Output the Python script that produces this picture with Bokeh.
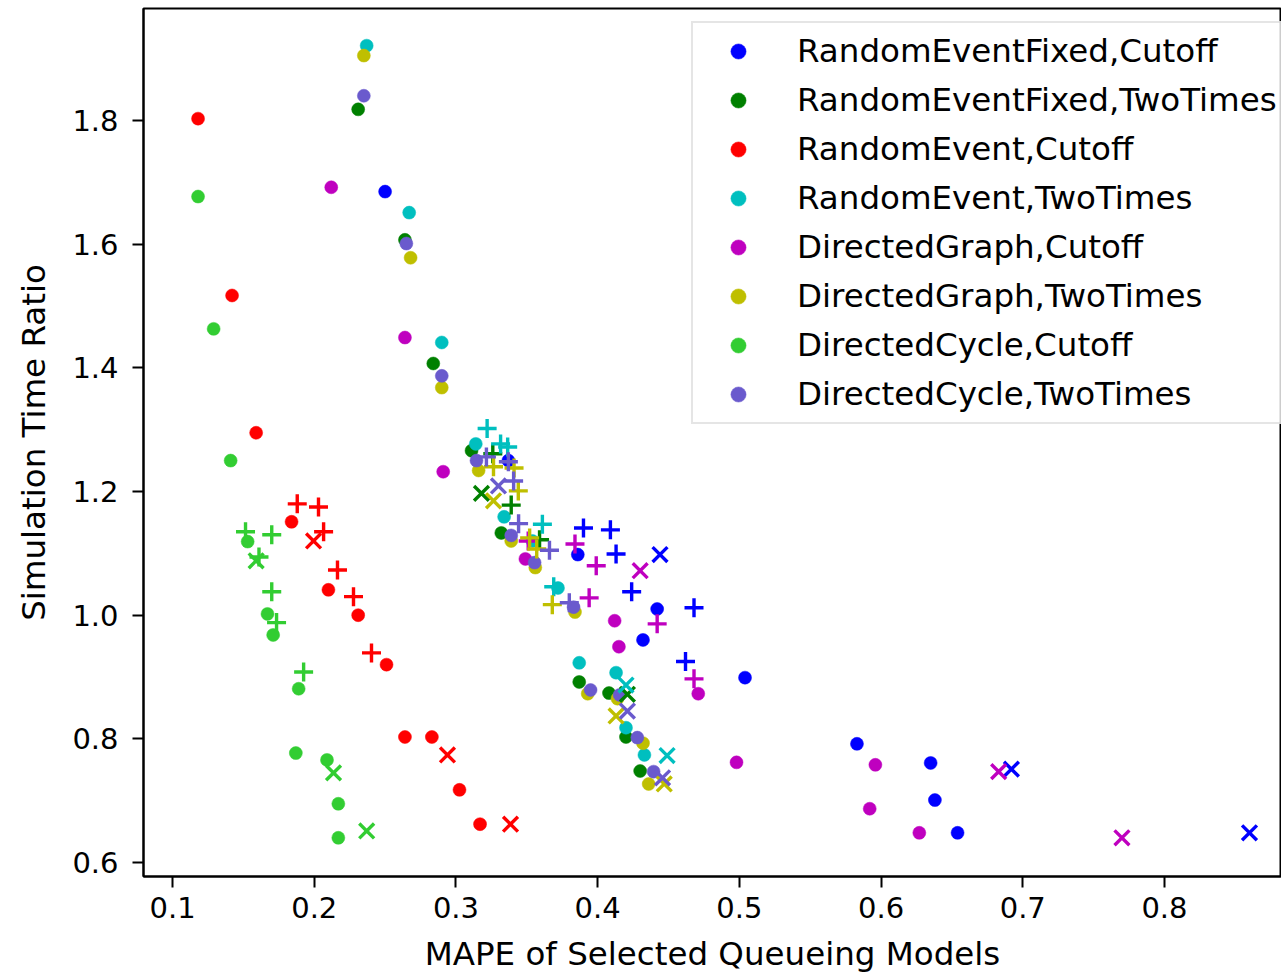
from bokeh.plotting import figure
from bokeh.models import Range1d, Legend, LegendItem, PrintfTickFormatter
from bokeh.embed import file_html
from bokeh.resources import INLINE

# ---------------- data ----------------
series_names = ["RandomEventFixed,Cutoff", "RandomEventFixed,TwoTimes", "RandomEvent,Cutoff",
                "RandomEvent,TwoTimes", "DirectedGraph,Cutoff", "DirectedGraph,TwoTimes",
                "DirectedCycle,Cutoff", "DirectedCycle,TwoTimes"]
series_colors = ["#0000ff", "#008000", "#ff0000", "#00bfbf", "#bf00bf", "#bfbf00", "#32cd32", "#6a5acd"]

x_ticks = [0.1, 0.2, 0.3, 0.4, 0.5, 0.6, 0.7, 0.8]
y_ticks = [0.6, 0.8, 1.0, 1.2, 1.4, 1.6, 1.8]
x_title = "MAPE of Selected Queueing Models"
y_title = "Simulation Time Ratio"

# RandomEventFixed,Cutoff
ref_cut_dot_x = [0.250, 0.386, 0.337, 0.442, 0.432, 0.504, 0.583, 0.635, 0.638, 0.654]
ref_cut_dot_y = [1.685, 1.098, 1.250, 1.010, 0.960, 0.899, 0.792, 0.761, 0.701, 0.648]
ref_cut_plus_x = [0.390, 0.409, 0.413, 0.424, 0.468, 0.462]
ref_cut_plus_y = [1.141, 1.138, 1.099, 1.038, 1.012, 0.925]
ref_cut_x_x = [0.444, 0.692, 0.860]
ref_cut_x_y = [1.098, 0.751, 0.648]

# RandomEventFixed,TwoTimes
ref_two_dot_x = [0.231, 0.264, 0.284, 0.311, 0.332, 0.387, 0.408, 0.420, 0.430]
ref_two_dot_y = [1.818, 1.607, 1.407, 1.266, 1.133, 0.892, 0.874, 0.803, 0.748]
ref_two_plus_x = [0.326, 0.339, 0.359]
ref_two_plus_y = [1.261, 1.178, 1.122]
ref_two_x_x = [0.318, 0.421]
ref_two_x_y = [1.197, 0.872]

# RandomEvent,Cutoff
re_cut_dot_x = [0.118, 0.142, 0.159, 0.184, 0.210, 0.231, 0.251, 0.264, 0.283, 0.3025, 0.317]
re_cut_dot_y = [1.803, 1.517, 1.295, 1.151, 1.041, 1.000, 0.920, 0.803, 0.803, 0.7175, 0.662]
re_cut_plus_x = [0.188, 0.203, 0.2066, 0.2164, 0.2277, 0.2404]
re_cut_plus_y = [1.180, 1.175, 1.135, 1.073, 1.030, 0.939]
re_cut_x_x = [0.1995, 0.294, 0.3385]
re_cut_x_y = [1.120, 0.774, 0.662]

# RandomEvent,TwoTimes
re_two_dot_x = [0.237, 0.267, 0.290, 0.314, 0.334, 0.354, 0.372, 0.387, 0.413, 0.420, 0.433]
re_two_dot_y = [1.921, 1.651, 1.441, 1.277, 1.159, 1.120, 1.044, 0.923, 0.907, 0.818, 0.774]
re_two_plus_x = [0.322, 0.3315, 0.3365, 0.361, 0.369]
re_two_plus_y = [1.302, 1.277, 1.272, 1.147, 1.046]
re_two_x_x = [0.420, 0.449]
re_two_x_y = [0.887, 0.773]

# DirectedGraph,Cutoff
dg_cut_dot_x = [0.212, 0.264, 0.291, 0.349, 0.412, 0.415, 0.471, 0.498, 0.596, 0.592, 0.627]
dg_cut_dot_y = [1.692, 1.449, 1.232, 1.091, 0.991, 0.949, 0.873, 0.762, 0.758, 0.687, 0.648]
dg_cut_plus_x = [0.351, 0.384, 0.399, 0.394, 0.442, 0.468]
dg_cut_plus_y = [1.120, 1.115, 1.080, 1.028, 0.986, 0.897]
dg_cut_x_x = [0.430, 0.683, 0.770]
dg_cut_x_y = [1.072, 0.747, 0.640]

# DirectedGraph,TwoTimes
dg_two_dot_x = [0.235, 0.268, 0.290, 0.316, 0.339, 0.356, 0.384, 0.393, 0.414, 0.432, 0.436]
dg_two_dot_y = [1.905, 1.578, 1.368, 1.234, 1.120, 1.077, 1.005, 0.873, 0.865, 0.793, 0.727]
dg_two_plus_x = [0.3265, 0.341, 0.344, 0.352, 0.357, 0.368]
dg_two_plus_y = [1.240, 1.238, 1.201, 1.125, 1.107, 1.017]
dg_two_x_x = [0.3265, 0.413, 0.447]
dg_two_x_y = [1.185, 0.837, 0.727]

# DirectedCycle,Cutoff
dc_cut_dot_x = [0.118, 0.129, 0.141, 0.153, 0.167, 0.171, 0.189, 0.187, 0.209, 0.217, 0.217]
dc_cut_dot_y = [1.677, 1.463, 1.250, 1.119, 1.002, 0.968, 0.881, 0.777, 0.766, 0.695, 0.640]
dc_cut_plus_x = [0.1515, 0.161, 0.170, 0.170, 0.1734, 0.1925]
dc_cut_plus_y = [1.135, 1.094, 1.130, 1.038, 0.988, 0.908]
dc_cut_x_x = [0.159, 0.2136, 0.237]
dc_cut_x_y = [1.088, 0.745, 0.651]

# DirectedCycle,TwoTimes
dc_two_dot_x = [0.235, 0.265, 0.290, 0.3145, 0.339, 0.3555, 0.383, 0.395, 0.4155, 0.428, 0.4395]
dc_two_dot_y = [1.840, 1.601, 1.387, 1.250, 1.129, 1.085, 1.013, 0.879, 0.871, 0.802, 0.747]
dc_two_plus_x = [0.3215, 0.337, 0.3407, 0.3442, 0.366, 0.380]
dc_two_plus_y = [1.256, 1.248, 1.217, 1.148, 1.105, 1.020]
dc_two_x_x = [0.330, 0.421, 0.4458]
dc_two_x_y = [1.209, 0.845, 0.737]

dots = [(ref_cut_dot_x, ref_cut_dot_y), (ref_two_dot_x, ref_two_dot_y), (re_cut_dot_x, re_cut_dot_y),
        (re_two_dot_x, re_two_dot_y), (dg_cut_dot_x, dg_cut_dot_y), (dg_two_dot_x, dg_two_dot_y),
        (dc_cut_dot_x, dc_cut_dot_y), (dc_two_dot_x, dc_two_dot_y)]
pluses = [(ref_cut_plus_x, ref_cut_plus_y), (ref_two_plus_x, ref_two_plus_y), (re_cut_plus_x, re_cut_plus_y),
          (re_two_plus_x, re_two_plus_y), (dg_cut_plus_x, dg_cut_plus_y), (dg_two_plus_x, dg_two_plus_y),
          (dc_cut_plus_x, dc_cut_plus_y), (dc_two_plus_x, dc_two_plus_y)]
crosses = [(ref_cut_x_x, ref_cut_x_y), (ref_two_x_x, ref_two_x_y), (re_cut_x_x, re_cut_x_y),
           (re_two_x_x, re_two_x_y), (dg_cut_x_x, dg_cut_x_y), (dg_two_x_x, dg_two_x_y),
           (dc_cut_x_x, dc_cut_x_y), (dc_two_x_x, dc_two_x_y)]

# ---------------- figure ----------------
FONT = "DejaVu Sans"
p = figure(width=1281, height=976, output_backend="svg", toolbar_location=None,
           x_range=Range1d(0.0795, 0.8826), y_range=Range1d(0.5774, 1.9811),
           min_border_left=143, min_border_right=0, min_border_top=8, min_border_bottom=100)
p.grid.visible = False
p.background_fill_color = "white"
p.border_fill_color = "white"
p.outline_line_color = "black"
p.outline_line_width = 2

for ax in (p.xaxis[0], p.yaxis[0]):
    ax.axis_line_width = 2
    ax.axis_line_color = "black"
    ax.major_tick_line_width = 2
    ax.major_tick_line_color = "black"
    ax.major_tick_out = 11
    ax.major_tick_in = 0
    ax.minor_tick_line_color = None
    ax.major_label_text_font = FONT
    ax.major_label_text_font_size = "29px"
    ax.major_label_text_color = "black"
    ax.axis_label_text_font = FONT
    ax.axis_label_text_font_size = "32.5px"
    ax.axis_label_text_font_style = "normal"
    ax.axis_label_text_color = "black"
    ax.formatter = PrintfTickFormatter(format="%.1f")

p.xaxis.ticker = x_ticks
p.yaxis.ticker = y_ticks
p.xaxis.axis_label = x_title
p.yaxis.axis_label = y_title
p.xaxis.major_label_standoff = 9
p.xaxis.axis_label_standoff = 14
p.yaxis.major_label_standoff = 14
p.yaxis.axis_label_standoff = 16

dot_renderers = []
for (xs, ys), c in zip(dots, series_colors):
    r = p.scatter(x=xs, y=ys, marker="circle", size=13, fill_color=c, line_color=c, line_width=0.5)
    dot_renderers.append(r)
for (xs, ys), c in zip(pluses, series_colors):
    p.scatter(x=xs, y=ys, marker="cross", size=19, line_color=c, line_width=3.4)
for (xs, ys), c in zip(crosses, series_colors):
    p.scatter(x=xs, y=ys, marker="x", size=21, line_color=c, line_width=3.4)

legend = Legend(items=[LegendItem(label=n, renderers=[r]) for n, r in zip(series_names, dot_renderers)],
                location=(548, 452))
legend.label_text_font = FONT
legend.label_text_font_size = "32.5px"
legend.label_text_color = "black"
legend.label_height = 38
legend.glyph_height = 38
legend.glyph_width = 72
legend.label_standoff = 23
legend.spacing = 11
legend.padding = 9
legend.margin = 0
legend.border_line_color = "#cccccc"
legend.border_line_width = 2
legend.background_fill_alpha = 0.8
p.add_layout(legend)

open("out.html", "w").write(file_html(p, INLINE))
